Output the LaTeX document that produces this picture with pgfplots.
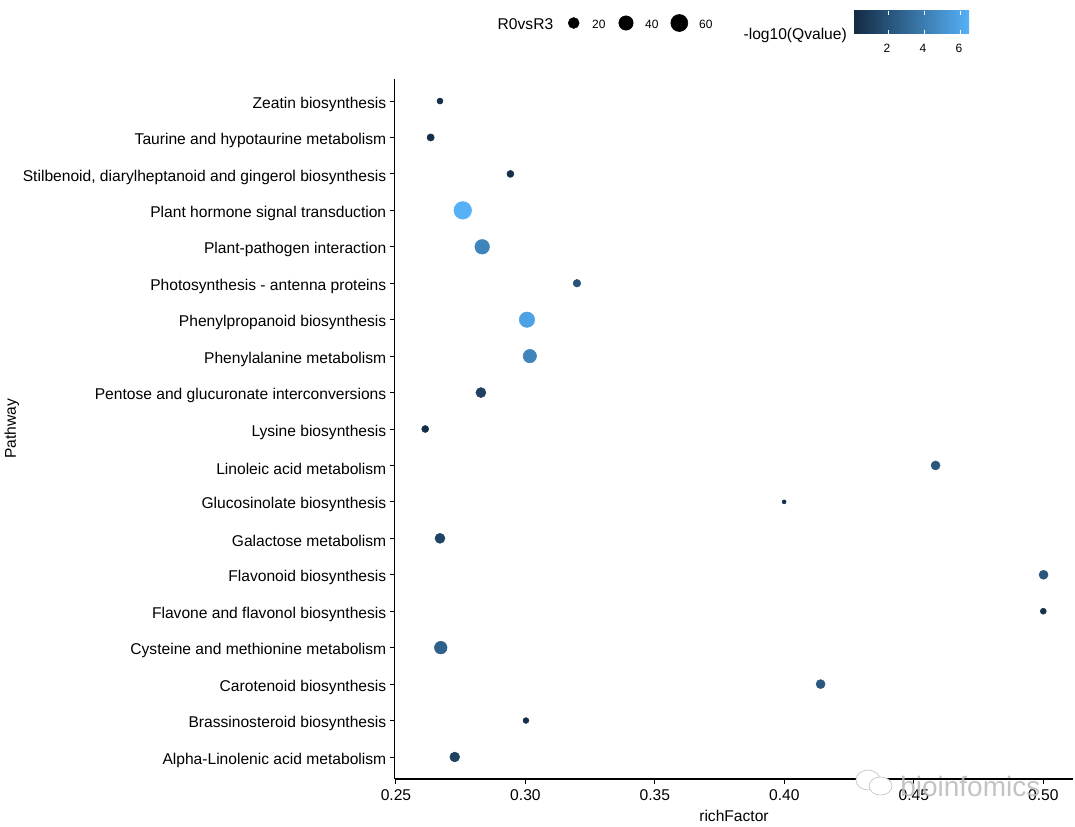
\documentclass[border=0pt]{standalone}
\usepackage{pgfplots}
\pgfplotsset{compat=1.18}
\usepackage{fontspec}
\setmainfont{Liberation Sans}
\definecolor{lo}{RGB}{19,43,67}
\definecolor{hi}{RGB}{86,177,247}
\pgfplotstableread{
x y r q
0.2670 18 3.0 0.5
0.2634 17 3.6 0.5
0.2942 16 3.5 0.5
0.2758 15 8.8 6.7
0.2833 14 7.3 4.5
0.3199 13 3.8 2.2
0.3006 12 7.7 5.9
0.3017 11 6.7 4.5
0.2828 10 5.0 1.4
0.2613 9 3.5 0.5
0.4584 8 4.5 2.4
0.3999 7 2.0 0.4
0.2670 6 5.0 1.5
0.5001 5 4.5 2.4
0.5000 4 3.0 0.6
0.2673 3 6.3 2.9
0.4140 2 4.5 2.4
0.3002 1 2.9 0.5
0.2727 0 4.9 1.4
}\dots
\begin{document}
\begin{tikzpicture}[x=1pt,y=1pt]
\path[use as bounding box] (0,0) rectangle (806.25,620.25);
\begin{axis}[
 at={(296pt,36pt)},anchor=south west,
 width=509pt,height=525pt,scale only axis,
 xmin=0.2495,xmax=0.5116,ymin=-0.604,ymax=18.605,
 axis x line*=bottom,axis y line*=left,
 axis line style={black,line width=0.9pt,-},
 xtick={0.25,0.30,0.35,0.40,0.45,0.50},
 xticklabels={0.25,0.30,0.35,0.40,0.45,0.50},
 ytick={0,...,18},
 yticklabels={Alpha-Linolenic acid metabolism,Brassinosteroid biosynthesis,Carotenoid biosynthesis,Cysteine and methionine metabolism,Flavone and flavonol biosynthesis,Flavonoid biosynthesis,Galactose metabolism,Glucosinolate biosynthesis,Linoleic acid metabolism,Lysine biosynthesis,Pentose and glucuronate interconversions,Phenylalanine metabolism,Phenylpropanoid biosynthesis,Photosynthesis - antenna proteins,Plant-pathogen interaction,Plant hormone signal transduction,{Stilbenoid, diarylheptanoid and gingerol biosynthesis},Taurine and hypotaurine metabolism,Zeatin biosynthesis},
 tick style={black,line width=0.7pt},
 tick align=outside,major tick length=3.5pt,
 tick label style={font=\fontsize{11.7}{12}\selectfont,black},
 yticklabel style={yshift=-2.3pt,xshift=0.7pt},
 xticklabel style={yshift=-1pt},
 clip=false,
 colormap={qq}{color=(lo) color=(hi)},
 point meta min=0.3,point meta max=6.7,
 xlabel={richFactor},ylabel={Pathway},
 label style={font=\fontsize{11.7}{12}\selectfont},
 xlabel style={at={(axis description cs:0.5,0)},anchor=north,yshift=-20pt},
 ylabel style={at={(axis description cs:-0.564,0.5)},anchor=center},
]
\addplot[scatter,only marks,mark=*,scatter src=explicit,
 scatter/use mapped color={draw=mapped color,fill=mapped color},
 visualization depends on={\thisrow{r} \as \rr},
 scatter/@pre marker code/.append style={/tikz/mark size=0.75*\rr},
] table[x=x,y=y,meta=q] {\dots};
\end{axis}
% legend and colour bar, in pixel coordinates of the picture
\begin{axis}[
 at={(0pt,0pt)},anchor=south west,width=806.25pt,height=620.25pt,scale only axis,
 xmin=0,xmax=1075,ymin=0,ymax=827,y dir=reverse,hide axis,clip=false]
\addplot[only marks,mark=*,black,mark size=4.1pt] coordinates {(573.7,23)};
\addplot[only marks,mark=*,black,mark size=5.4pt] coordinates {(626,23)};
\addplot[only marks,mark=*,black,mark size=6.4pt] coordinates {(679.3,23)};
\node[font=\fontsize{11.7}{12}\selectfont,anchor=west] at (axis cs:493,24) {R0vsR3};
\node[font=\fontsize{9}{12}\selectfont,anchor=west] at (axis cs:587.5,24) {20};
\node[font=\fontsize{9}{12}\selectfont,anchor=west] at (axis cs:640.5,24) {40};
\node[font=\fontsize{9}{12}\selectfont,anchor=west] at (axis cs:694.5,24) {60};
\node[font=\fontsize{11.7}{12}\selectfont,anchor=east] at (axis cs:851.5,35) {-log10(Qvalue)};
\fill[left color=lo,right color=hi] (axis cs:854,11) rectangle (axis cs:969,34);
\foreach \p in {888.5,924,960}{
 \edef\tmp{\noexpand\draw[white,line width=0.5pt] (axis cs:\p,11) -- (axis cs:\p,15);
 \noexpand\draw[white,line width=0.5pt] (axis cs:\p,30) -- (axis cs:\p,34);}\tmp}
\node[font=\fontsize{9}{12}\selectfont] at (axis cs:887,48) {2};
\node[font=\fontsize{9}{12}\selectfont] at (axis cs:923,48) {4};
\node[font=\fontsize{9}{12}\selectfont] at (axis cs:959,48) {6};
\draw[gray!40,line width=0.6pt,fill=white] (axis cs:868,780) ellipse [x radius=9pt, y radius=7.5pt];
\draw[gray!40,line width=0.6pt,fill=white] (axis cs:880.5,786) ellipse [x radius=8.6pt, y radius=6.8pt];
\node[font=\fontsize{21}{21}\selectfont,gray!55,anchor=west,inner sep=0pt,opacity=0.85] at (axis cs:900,786) {bioinfomics};
\end{axis}
\end{tikzpicture}
\end{document}
